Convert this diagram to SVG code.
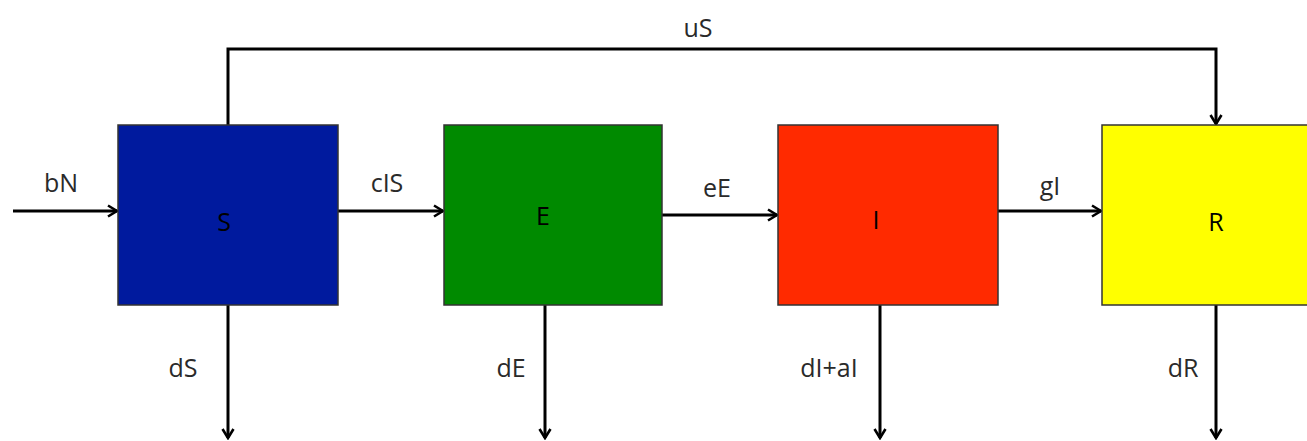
<svg xmlns="http://www.w3.org/2000/svg" width="1307" height="441" viewBox="0 0 1307 441">
<style>
.box{stroke:#333;stroke-width:1.5}
.ln{fill:none;stroke:#000;stroke-width:3}
text{font-family:"Open Sans","Liberation Sans",sans-serif;font-size:25px;fill:#2a2a2a;text-anchor:middle;dominant-baseline:central}
.nl{fill:#000}
</style>
<defs>
<marker id="ah" viewBox="0 0 14 14" refX="12" refY="7" markerWidth="14" markerHeight="14" markerUnits="userSpaceOnUse" orient="auto">
<path d="M3,1.5 L12,7 L3,12.5" fill="none" stroke="#000" stroke-width="2.6"/>
</marker>
</defs>
<g id="connectors">
<line class="ln" x1="13" y1="211" x2="117" y2="211" marker-end="url(#ah)"/>
<line class="ln" x1="338" y1="211" x2="443" y2="211" marker-end="url(#ah)"/>
<line class="ln" x1="662" y1="215" x2="777" y2="215" marker-end="url(#ah)"/>
<line class="ln" x1="998" y1="211" x2="1101" y2="211" marker-end="url(#ah)"/>
<path class="ln" d="M228,125 V49 H1216 V124" marker-end="url(#ah)"/>
<line class="ln" x1="228" y1="305" x2="228" y2="438" marker-end="url(#ah)"/>
<line class="ln" x1="545" y1="305" x2="545" y2="438" marker-end="url(#ah)"/>
<line class="ln" x1="880" y1="305" x2="880" y2="438" marker-end="url(#ah)"/>
<line class="ln" x1="1216" y1="305" x2="1216" y2="438" marker-end="url(#ah)"/>
<text x="61" y="182">bN</text>
<text x="387" y="182">cIS</text>
<text x="717" y="187">eE</text>
<text x="1050" y="185">gI</text>
<text x="698" y="27">uS</text>
<text x="183" y="367">dS</text>
<text x="511" y="367">dE</text>
<text x="829" y="367">dI+aI</text>
<text x="1183" y="367">dR</text>
</g>
<g id="node-S"><rect class="box" x="118" y="125" width="220" height="180" fill="#001a9e"/><text class="nl" x="224" y="221">S</text></g>
<g id="node-E"><rect class="box" x="444" y="125" width="218" height="180" fill="#008a00"/><text class="nl" x="543" y="215">E</text></g>
<g id="node-I"><rect class="box" x="778" y="125" width="220" height="180" fill="#ff2a00"/><text class="nl" x="876" y="219">I</text></g>
<g id="node-R"><rect class="box" x="1102" y="125" width="220" height="180" fill="#ffff00"/><text class="nl" x="1216" y="221">R</text></g>
</svg>
